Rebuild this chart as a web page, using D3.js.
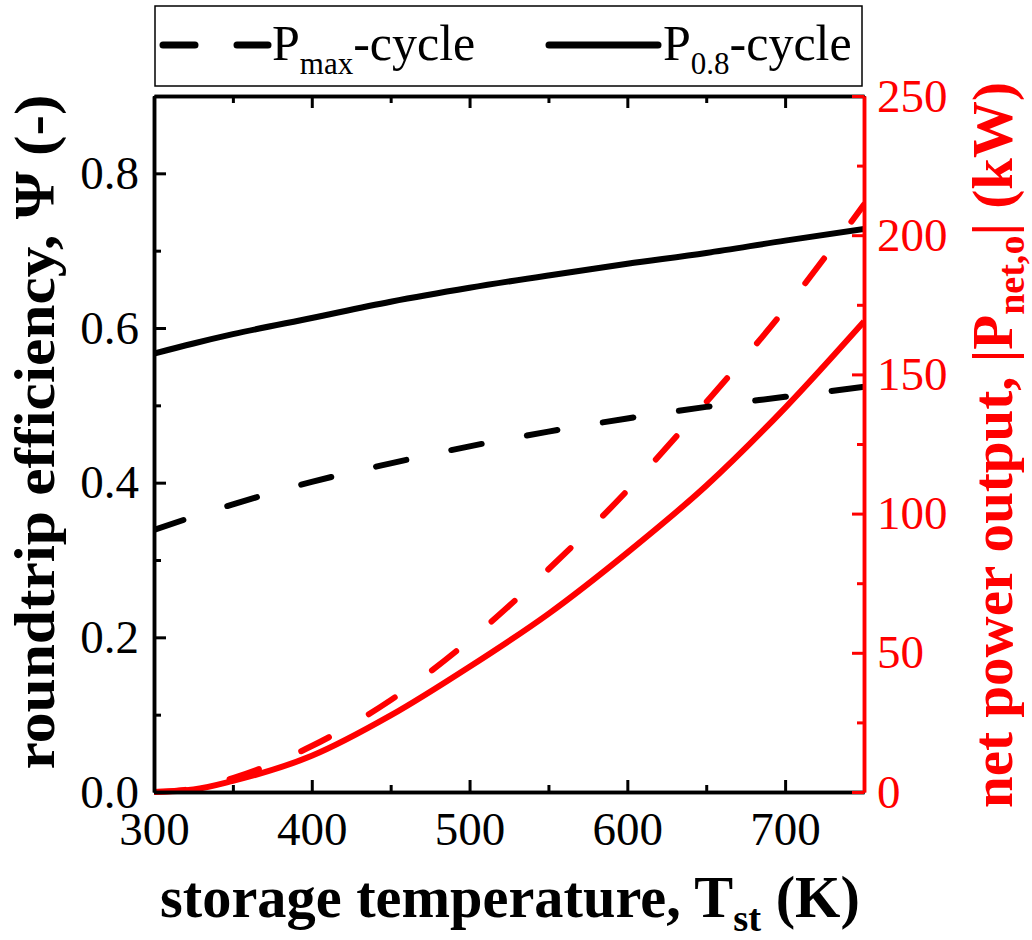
<!DOCTYPE html>
<html><head><meta charset="utf-8">
<script src="https://cdn.jsdelivr.net/npm/d3@7/dist/d3.min.js"></script>
<style>
html,body{margin:0;padding:0;background:#fff;}
svg{display:block;}
</style></head>
<body>
<svg id="chart" width="1032" height="940"></svg>
<script>
// ---- data ----
const temps = [300, 325, 350, 400, 450, 500, 550, 600, 650, 700, 750];
const effPmax = [0.339, 0.356, 0.372, 0.401, 0.425, 0.447, 0.466, 0.483, 0.498, 0.511, 0.524];
const effP08  = [0.567, 0.580, 0.592, 0.613, 0.634, 0.652, 0.668, 0.683, 0.697, 0.713, 0.728];
const powPmax = [0, 1.2, 5.0, 16.5, 33, 54.5, 80, 108.3, 140, 173.5, 211];
const powP08  = [0, 0.9, 4.0, 13.0, 27.5, 45, 64, 86, 110, 138, 169];
const xTicks = [300, 400, 500, 600, 700];
const xMinor = [350, 450, 550, 650, 750];
const yLTicks = [0.0, 0.2, 0.4, 0.6, 0.8];
const yLMinor = [0.1, 0.3, 0.5, 0.7];
const yRTicks = [0, 50, 100, 150, 200, 250];
const yRMinor = [25, 75, 125, 175, 225];

(function () {
const RED = "#ff0000";
const FONT = "'Liberation Serif', 'Times New Roman', serif";
const svg = d3.select("#chart");
const L = 154, R = 864, T = 96, B = 792;
const x = d3.scaleLinear().domain([300, 750]).range([L, R]);
const yL = d3.scaleLinear().domain([0, 0.9]).range([B, T]);
const yR = d3.scaleLinear().domain([0, 250]).range([B, T]);

// ---- curves ----
svg.append("clipPath").attr("id", "plotclip").append("rect")
  .attr("x", L).attr("y", T - 4).attr("width", R - L).attr("height", B - T + 8);
const g = svg.append("g").attr("clip-path", "url(#plotclip)");

function series(vals, yScale, color, dashed) {
  const pts = temps.map((t, i) => [t, vals[i]]);
  const line = d3.line().x(d => x(d[0])).y(d => yScale(d[1])).curve(d3.curveMonotoneX);
  g.append("path").attr("d", line(pts))
    .attr("fill", "none").attr("stroke", color).attr("stroke-width", 6)
    .attr("stroke-linecap", dashed ? "round" : "butt")
    .attr("stroke-dasharray", dashed ? "31,46" : null);
}
series(powP08, yR, RED, false);
series(powPmax, yR, RED, true);
series(effP08, yL, "#000", false);
series(effPmax, yL, "#000", true);

// ---- axes ----
const axB = svg.append("g").attr("transform", `translate(0,${B})`)
  .call(d3.axisBottom(x).tickValues(xTicks).tickSize(-12).tickSizeOuter(0).tickPadding(20).tickFormat(d3.format("d")));
const axBm = svg.append("g").attr("transform", `translate(0,${B})`)
  .call(d3.axisBottom(x).tickValues(xMinor).tickSize(-7).tickSizeOuter(0).tickFormat(""));
const axT = svg.append("g").attr("transform", `translate(0,${T})`)
  .call(d3.axisTop(x).tickValues(xTicks).tickSize(-12).tickSizeOuter(0).tickFormat(""));
const axTm = svg.append("g").attr("transform", `translate(0,${T})`)
  .call(d3.axisTop(x).tickValues(xMinor).tickSize(-7).tickSizeOuter(0).tickFormat(""));
const axL = svg.append("g").attr("transform", `translate(${L},0)`)
  .call(d3.axisLeft(yL).tickValues(yLTicks).tickSize(-12).tickSizeOuter(0).tickPadding(15).tickFormat(d3.format(".1f")));
const axLm = svg.append("g").attr("transform", `translate(${L},0)`)
  .call(d3.axisLeft(yL).tickValues(yLMinor).tickSize(-7).tickSizeOuter(0).tickFormat(""));
const axR = svg.append("g").attr("transform", `translate(${R},0)`)
  .call(d3.axisRight(yR).tickValues(yRTicks).tickSize(-12).tickSizeOuter(0).tickPadding(13).tickFormat(d3.format("d")));
const axRm = svg.append("g").attr("transform", `translate(${R},0)`)
  .call(d3.axisRight(yR).tickValues(yRMinor).tickSize(-7).tickSizeOuter(0).tickFormat(""));

[axB, axBm, axT, axTm, axL, axLm].forEach(a => {
  a.selectAll(".domain").attr("stroke", "#000").attr("stroke-width", 3.5);
  a.selectAll(".tick line").attr("stroke", "#000").attr("stroke-width", 3);
  a.selectAll(".tick text").attr("fill", "#000").style("font-size", "47px").style("font-family", FONT);
});
[axR, axRm].forEach(a => {
  a.selectAll(".domain").attr("stroke", RED).attr("stroke-width", 3.5);
  a.selectAll(".tick line").attr("stroke", RED).attr("stroke-width", 3);
  a.selectAll(".tick text").attr("fill", RED).style("font-size", "47px").style("font-family", FONT);
});

// stretch a text along its writing direction to a target length
function fit(sel, target) {
  const w = sel.node().getComputedTextLength();
  return w > 0 ? target / w : 1;
}

// ---- axis titles ----
const xt = svg.append("text").attr("text-anchor", "middle")
  .style("font-family", FONT).style("font-size", "59px").style("font-weight", "bold").attr("fill", "#000");
xt.append("tspan").text("storage temperature, T");
xt.append("tspan").style("font-size", "39px").attr("dy", 14).text("st");
xt.append("tspan").attr("dy", -14).text(" (K)");
xt.attr("transform", `translate(510,917) scale(${fit(xt, 700)},1)`);

const ylt = svg.append("text").attr("text-anchor", "middle")
  .style("font-family", FONT).style("font-size", "57px").style("font-weight", "bold").attr("fill", "#000");
ylt.append("tspan").text("roundtrip efficiency, Ψ (-)");
ylt.attr("transform", `translate(54,432) rotate(-90) scale(${fit(ylt, 675)},1)`);

const yrt = svg.append("text").attr("text-anchor", "middle")
  .style("font-family", FONT).style("font-size", "57px").style("font-weight", "bold").attr("fill", RED);
yrt.append("tspan").text("net power output, |P");
yrt.append("tspan").style("font-size", "38px").attr("dy", 12).text("net,o");
yrt.append("tspan").attr("dy", -12).text("| (kW)");
yrt.attr("transform", `translate(1012,445) rotate(-90) scale(${fit(yrt, 726)},1)`);

// ---- legend ----
svg.append("rect").attr("x", 155).attr("y", 6).attr("width", 707).attr("height", 80)
  .attr("fill", "#fff").attr("stroke", "#000").attr("stroke-width", 1.5);
svg.append("line").attr("x1", 163).attr("x2", 268).attr("y1", 45).attr("y2", 45)
  .attr("stroke", "#000").attr("stroke-width", 7).attr("stroke-linecap", "round")
  .attr("stroke-dasharray", "32,42");
svg.append("line").attr("x1", 549).attr("x2", 658).attr("y1", 45).attr("y2", 45)
  .attr("stroke", "#000").attr("stroke-width", 7).attr("stroke-linecap", "round");
const l1 = svg.append("text").attr("x", 272).attr("y", 60)
  .style("font-family", FONT).style("font-size", "50px").attr("fill", "#000");
l1.append("tspan").text("P");
l1.append("tspan").style("font-size", "31px").attr("dy", 14).text("max");
l1.append("tspan").attr("dy", -14).text("-cycle");
const l2 = svg.append("text").attr("x", 663).attr("y", 60)
  .style("font-family", FONT).style("font-size", "50px").attr("fill", "#000");
l2.append("tspan").text("P");
l2.append("tspan").style("font-size", "31px").attr("dy", 14).text("0.8");
l2.append("tspan").attr("dy", -14).text("-cycle");
})();
</script>
</body></html>
